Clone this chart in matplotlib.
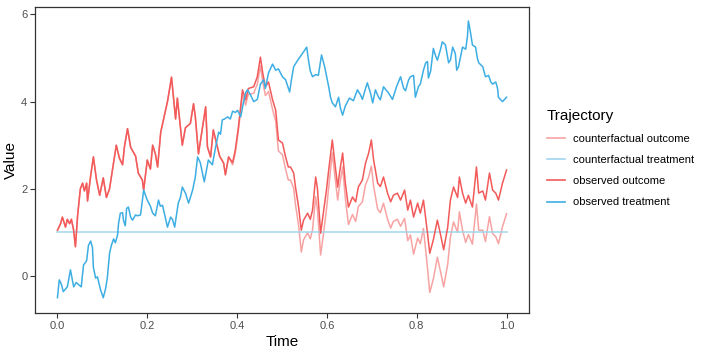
import matplotlib
matplotlib.use("Agg")
import matplotlib.pyplot as plt
from matplotlib.lines import Line2D

plt.rcParams['font.family'] = ['Liberation Sans', 'DejaVu Sans']

# ---- data ----
out_time = [0.000, 0.007, 0.011, 0.018, 0.022, 0.027, 0.031, 0.036, 0.040, 0.045,
            0.051, 0.056, 0.060, 0.065, 0.067, 0.074, 0.080, 0.087, 0.094, 0.102,
            0.109, 0.116, 0.125, 0.131, 0.138, 0.145, 0.149, 0.156, 0.163, 0.174,
            0.180, 0.189, 0.192, 0.200, 0.207, 0.212, 0.218, 0.223, 0.230, 0.236,
            0.245, 0.254, 0.263, 0.267, 0.278, 0.285, 0.296, 0.303, 0.307, 0.314,
            0.323, 0.330, 0.334, 0.341, 0.347, 0.356, 0.361, 0.370, 0.374, 0.381,
            0.390, 0.396, 0.403, 0.412, 0.419, 0.425, 0.437, 0.445, 0.452, 0.457,
            0.463, 0.470, 0.479, 0.486, 0.492, 0.501, 0.508, 0.514, 0.519, 0.526,
            0.530, 0.537, 0.543, 0.548, 0.557, 0.563, 0.568, 0.575, 0.579, 0.586,
            0.592, 0.599, 0.604, 0.612, 0.617, 0.624, 0.628, 0.635, 0.641, 0.648,
            0.657, 0.664, 0.670, 0.679, 0.686, 0.693, 0.699, 0.704, 0.713, 0.719,
            0.726, 0.735, 0.742, 0.748, 0.757, 0.764, 0.773, 0.780, 0.786, 0.793,
            0.802, 0.808, 0.815, 0.824, 0.829, 0.837, 0.846, 0.853, 0.860, 0.869,
            0.875, 0.882, 0.891, 0.895, 0.902, 0.909, 0.915, 0.924, 0.933, 0.938,
            0.947, 0.953, 0.962, 0.969, 0.976, 0.982, 0.991, 1.000]

observed_outcome = [1.05, 1.20, 1.35, 1.12, 1.30, 1.20, 1.30, 1.05, 0.67, 1.40,
                    2.00, 2.13, 1.95, 2.13, 1.72, 2.30, 2.73, 2.20, 1.85, 2.25,
                    1.80, 2.00, 2.60, 3.00, 2.70, 2.55, 2.95, 3.38, 2.95, 2.75,
                    2.36, 2.20, 1.97, 2.66, 2.45, 3.00, 2.80, 2.50, 3.30, 3.58,
                    4.00, 4.56, 3.60, 4.08, 3.00, 3.40, 3.50, 3.95, 3.65, 2.80,
                    3.40, 3.88, 2.96, 2.73, 3.35, 2.96, 2.75, 2.59, 2.32, 2.73,
                    2.60, 2.89, 3.42, 4.27, 4.04, 4.30, 4.34, 4.57, 5.02, 4.66,
                    4.34, 4.45, 4.04, 3.80, 3.12, 3.05, 2.73, 2.50, 2.50, 2.36,
                    2.04, 1.58, 1.05, 1.28, 1.44, 1.30, 1.51, 2.27, 2.00, 0.98,
                    1.44, 1.97, 2.43, 3.12, 2.66, 2.04, 2.36, 2.82, 2.13, 1.58,
                    1.81, 1.70, 2.04, 2.20, 2.59, 2.82, 3.12, 2.66, 2.13, 2.05,
                    2.27, 1.90, 1.70, 1.85, 1.90, 1.74, 1.97, 1.51, 1.74, 1.35,
                    1.67, 1.44, 1.74, 0.98, 0.52, 0.83, 1.28, 0.95, 0.60, 1.12,
                    1.74, 2.04, 1.80, 2.27, 1.90, 1.67, 1.85, 1.58, 2.50, 1.90,
                    1.95, 1.74, 2.36, 1.97, 1.90, 1.74, 2.13, 2.43]

counterfactual_outcome = [1.05, 1.20, 1.35, 1.12, 1.30, 1.20, 1.30, 1.05, 0.67, 1.40,
                          2.00, 2.13, 1.95, 2.13, 1.72, 2.30, 2.73, 2.20, 1.85, 2.25,
                          1.80, 2.00, 2.60, 3.00, 2.70, 2.55, 2.95, 3.38, 2.95, 2.75,
                          2.36, 2.20, 1.97, 2.66, 2.45, 3.00, 2.80, 2.50, 3.30, 3.58,
                          4.00, 4.56, 3.60, 4.08, 3.00, 3.40, 3.50, 3.95, 3.65, 2.80,
                          3.40, 3.88, 2.96, 2.73, 3.35, 2.96, 2.75, 2.59, 2.32, 2.73,
                          2.55, 2.82, 3.34, 4.17, 3.92, 4.17, 4.19, 4.40, 4.82, 4.46,
                          4.14, 4.23, 3.82, 3.55, 2.87, 2.78, 2.45, 2.20, 2.20, 2.01,
                          1.64, 1.16, 0.55, 0.83, 0.99, 0.85, 1.06, 1.82, 1.52, 0.48,
                          0.94, 1.52, 2.03, 2.82, 2.36, 1.74, 2.06, 2.50, 1.78, 1.18,
                          1.41, 1.25, 1.59, 1.70, 2.09, 2.27, 2.52, 2.06, 1.53, 1.45,
                          1.67, 1.30, 1.10, 1.25, 1.30, 1.14, 1.32, 0.81, 0.94, 0.50,
                          0.87, 0.74, 1.09, 0.18, -0.38, -0.07, 0.43, 0.10, -0.25, 0.27,
                          0.89, 1.24, 1.00, 1.47, 1.05, 0.77, 0.95, 0.73, 1.65, 1.05,
                          1.05, 0.79, 1.36, 0.97, 0.90, 0.74, 1.13, 1.43]

trt_time = [0.000, 0.004, 0.009, 0.013, 0.022, 0.029, 0.036, 0.042, 0.047, 0.053,
            0.058, 0.065, 0.069, 0.074, 0.078, 0.080, 0.085, 0.089, 0.096, 0.102,
            0.107, 0.111, 0.116, 0.120, 0.125, 0.129, 0.134, 0.136, 0.140, 0.145,
            0.147, 0.151, 0.154, 0.158, 0.163, 0.167, 0.174, 0.178, 0.185, 0.192,
            0.196, 0.200, 0.207, 0.212, 0.218, 0.225, 0.229, 0.234, 0.241, 0.245,
            0.252, 0.256, 0.261, 0.269, 0.274, 0.278, 0.285, 0.292, 0.301, 0.307,
            0.312, 0.318, 0.323, 0.327, 0.336, 0.345, 0.352, 0.359, 0.363, 0.367,
            0.372, 0.379, 0.385, 0.390, 0.396, 0.401, 0.408, 0.414, 0.419, 0.423,
            0.430, 0.437, 0.445, 0.452, 0.459, 0.463, 0.470, 0.479, 0.486, 0.492,
            0.501, 0.508, 0.517, 0.521, 0.526, 0.535, 0.546, 0.555, 0.559, 0.563,
            0.568, 0.575, 0.581, 0.588, 0.595, 0.599, 0.604, 0.608, 0.612, 0.619,
            0.626, 0.630, 0.635, 0.641, 0.650, 0.659, 0.668, 0.675, 0.679, 0.686,
            0.690, 0.697, 0.702, 0.708, 0.715, 0.719, 0.726, 0.733, 0.737, 0.746,
            0.755, 0.764, 0.771, 0.775, 0.782, 0.786, 0.793, 0.797, 0.804, 0.808,
            0.815, 0.820, 0.824, 0.826, 0.831, 0.837, 0.842, 0.846, 0.853, 0.857,
            0.864, 0.871, 0.875, 0.880, 0.886, 0.889, 0.893, 0.898, 0.902, 0.909,
            0.913, 0.915, 0.920, 0.924, 0.931, 0.935, 0.938, 0.942, 0.947, 0.953,
            0.960, 0.965, 0.969, 0.976, 0.980, 0.982, 0.987, 0.991, 1.000]

observed_treatment = [-0.50, -0.09, -0.20, -0.36, -0.25, 0.14, -0.25, -0.15, -0.20, -0.25,
                      0.25, 0.35, 0.70, 0.80, 0.65, 0.20, -0.05, -0.02, -0.32, -0.50,
                      -0.30, -0.05, 0.52, 0.70, 0.85, 0.76, 0.95, 1.20, 1.44, 1.45,
                      1.28, 1.15, 1.55, 1.58, 1.35, 1.28, 1.40, 1.38, 1.40, 1.97,
                      1.85, 1.74, 1.60, 1.44, 1.38, 1.74, 1.60, 1.62, 1.30, 1.12,
                      1.35, 1.30, 1.12, 1.67, 1.81, 2.04, 1.90, 1.67, 1.97, 2.27,
                      2.73, 2.60, 2.36, 2.16, 2.66, 2.55, 2.95, 3.30, 3.25, 3.58,
                      3.60, 3.65, 3.60, 3.78, 3.75, 3.80, 3.65, 3.97, 4.20, 4.27,
                      4.15, 4.00, 4.05, 4.40, 4.50, 4.30, 4.66, 4.86, 4.72, 4.75,
                      4.57, 4.50, 4.22, 4.50, 4.80, 4.95, 5.11, 5.25, 4.95, 4.70,
                      4.57, 4.62, 4.60, 5.07, 4.80, 4.60, 4.34, 4.10, 3.97, 3.88,
                      4.10, 3.85, 3.69, 3.90, 4.08, 4.02, 4.27, 4.15, 4.05, 4.30,
                      4.43, 4.20, 3.97, 4.27, 4.10, 4.04, 4.34, 4.25, 4.20, 4.05,
                      4.34, 4.57, 4.30, 4.25, 4.50, 4.57, 4.60, 4.10, 4.35, 4.40,
                      4.72, 4.89, 4.92, 4.54, 4.70, 5.22, 5.05, 4.95, 5.20, 5.37,
                      5.30, 4.89, 4.95, 5.25, 5.10, 4.72, 4.80, 5.05, 5.25, 5.20,
                      5.50, 5.85, 5.57, 5.30, 5.25, 5.00, 4.89, 4.85, 4.80, 4.57,
                      4.60, 4.45, 4.40, 4.45, 4.30, 4.10, 4.04, 4.00, 4.10]

cf_trt_time = [0.0, 1.0]
counterfactual_treatment = [1.0, 1.0]

labels = ["counterfactual outcome", "counterfactual treatment",
          "observed outcome", "observed treatment"]
colors = ["#F8A3A3", "#A0D6EE", "#F25A5A", "#3DAEE3"]

# ---- figure ----
fig = plt.figure(figsize=(7.06, 3.53), dpi=100)
ax = fig.add_axes([35 / 706, 1 - 313 / 353, (529 - 35) / 706, (313 - 7) / 353])

lw = 1.1
ax.plot(out_time, counterfactual_outcome, color=colors[0], lw=lw)
ax.plot(cf_trt_time, counterfactual_treatment, color=colors[1], lw=lw)
ax.plot(out_time, observed_outcome, color=colors[2], lw=lw)
ax.plot(trt_time, observed_treatment, color=colors[3], lw=lw)

ax.set_xlim(-0.05, 1.05)
ax.set_ylim(-0.85, 6.17)
ax.set_xticks([0.0, 0.2, 0.4, 0.6, 0.8, 1.0])
ax.set_xticklabels(["0.0", "0.2", "0.4", "0.6", "0.8", "1.0"])
ax.set_yticks([0, 2, 4, 6])
ax.set_yticklabels(["0", "2", "4", "6"])

for sp in ax.spines.values():
    sp.set_color("#333333")
    sp.set_linewidth(0.9)
ax.tick_params(axis="both", colors="#333333", length=3.5, width=0.8,
               labelsize=8, labelcolor="#4D4D4D", pad=2)

ax.set_xlabel("Time", fontsize=11, color="black", labelpad=3)
ax.set_ylabel("Value", fontsize=11, color="black", labelpad=2)

handles = [Line2D([0], [0], color=c, lw=1.2) for c in colors]
leg = fig.legend(handles, labels, title="Trajectory", loc="upper left",
                 bbox_to_anchor=(537 / 706, 1 - 99 / 353), frameon=False,
                 fontsize=8, title_fontsize=11, handlelength=1.6,
                 handletextpad=0.7, labelspacing=1.0, alignment="left")

fig.savefig("out.png", dpi=100)
